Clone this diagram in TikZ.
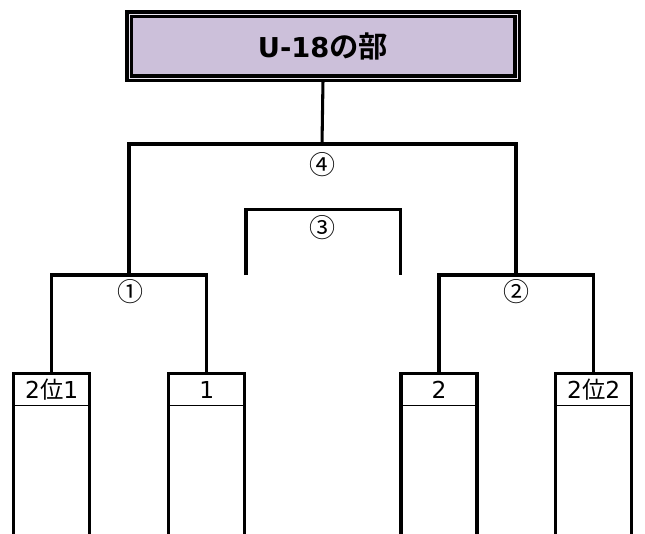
\documentclass[tikz,border=0pt]{standalone}
\usepackage{fontspec}
\setmainfont{Noto Sans CJK JP}[BoldFont={Noto Sans CJK JP Bold}]
\newfontfamily\latinfont{DejaVu Sans}
\usepackage{tikz}
\definecolor{lavender}{RGB}{204,192,218}
\newcommand{\dg}[1]{{\latinfont #1}}
\tikzset{
  heavy/.style={line width=2.3pt},
  entry/.style={minimum width=56.6pt,minimum height=23.2pt,inner sep=0pt,font=\fontsize{17.5}{18}\selectfont},
  titlebox/.style={draw=black,line width=2.6pt,double=white!60!lavender,double distance=0.75pt,fill=lavender,
    minimum width=291pt,minimum height=48pt,inner sep=0pt,font=\fontsize{22}{22}\selectfont\bfseries},
  game/.style={inner sep=0pt,font=\fontsize{19.5}{20}\selectfont}
}
\begin{document}
\begin{tikzpicture}[x=0.75pt,y=-0.75pt]
\useasboundingbox (0,0) rectangle (645,533);
\coordinate (floor) at (0,535);
\node[titlebox] (title) at (323,46.3) {{\fontsize{20.5}{22}\selectfont\dg{U-18}}の部};
\node[entry] (e1) at (51.7,389.5) {\dg{2}位\dg{1}};
\node[entry] (e2) at (206.7,389.5) {\dg{1}};
\node[entry] (e3) at (439,389.5) {\dg{2}};
\node[entry] (e4) at (593.7,389.5) {\dg{2}位\dg{2}};
\foreach \e in {e1,e2,e3,e4} {
  \draw[heavy] (\e.west |- floor) -- (\e.north west) -- (\e.north east) -- (\e.east |- floor);
  \draw[thin] (\e.south west) -- (\e.south east);
}
\coordinate (j1) at (129,275);
\coordinate (j2) at (516,275);
\coordinate (top) at (322,144);
\coordinate (s1) at (246,275);
\coordinate (s2) at (400.5,275);
\draw[heavy] (e1.north) |- (j1) -| (e2.north);
\draw[heavy] (e3.north) |- (j2) -| (e4.north);
\draw[heavy] (j1) |- (top) -| (j2);
\draw[heavy] (title.south) -- (top);
\draw[heavy] (s1) |- (322,209.5) -| (s2);
\node[game] (g1) at (130,292) {①};
\node[game] (g2) at (516.5,292) {②};
\node[game] (g3) at (322,228) {③};
\node[game] (g4) at (322,165) {④};
\end{tikzpicture}
\end{document}
